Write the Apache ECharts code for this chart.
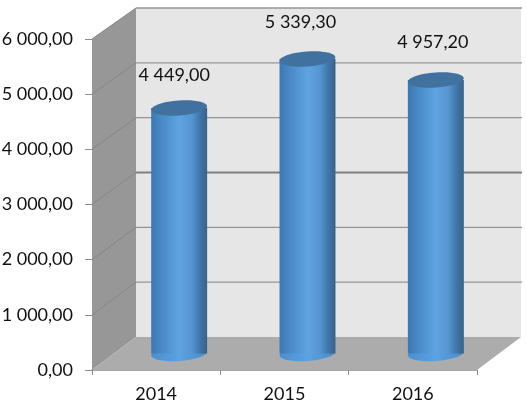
<!DOCTYPE html>
<html>
<head>
<meta charset="utf-8">
<style>html,body{margin:0;padding:0;background:#fff}#c{width:527px;height:403px}</style>
<script src="https://cdn.jsdelivr.net/npm/echarts@6/dist/echarts.min.js"></script>
</head>
<body>
<div id="c"></div>
<script>
const categories = ['2014', '2015', '2016'];
const values = [4449.0, 5339.3, 4957.2];
const valueLabels = ['4 449,00', '5 339,30', '4 957,20'];
const gridValues = [1000, 2000, 3000, 4000, 5000, 6000];
const tickLabels = ['0,00', '1 000,00', '2 000,00', '3 000,00', '4 000,00', '5 000,00', '6 000,00'];

const FONT = 'Lato, sans-serif';
const DEPTH_X = 44, DEPTH_Y = -33, BACK_SCALE = 0.994;
const labelNudge = [[-5, 4], [-7, 0], [-3, -1]];

const chart = echarts.init(document.getElementById('c'), null, { renderer: 'canvas' });

function toBack(p, base) {
  return [p[0] + DEPTH_X, base + DEPTH_Y - (base - p[1]) * BACK_SCALE];
}
function plotEnds(api) {
  const band = api.size([1, 0])[0];
  const l = api.coord([0, 0]), r = api.coord([categories.length - 1, 0]);
  return { left: l[0] - band / 2, right: r[0] + band / 2, base: l[1] };
}

function renderWalls(params, api) {
  const e = plotEnds(api);
  const topY = api.coord([0, 6000])[1];
  const a = [e.left, e.base], b = [e.right, e.base], t = [e.left, topY];
  const aB = toBack(a, e.base), bB = toBack(b, e.base), tB = toBack(t, e.base);
  return {
    type: 'group',
    children: [
      { type: 'polygon', shape: { points: [aB, bB, [bB[0], tB[1]], tB] },
        style: { fill: '#e6e6e6' } },
      { type: 'polygon', shape: { points: [a, aB, tB, t] }, style: { fill: '#979797' } },
      { type: 'polygon', shape: { points: [a, b, bB, aB] }, style: { fill: '#acacac' } }
    ]
  };
}

function renderGrid(params, api) {
  const v = api.value(0);
  const e = plotEnds(api);
  const a = [e.left, api.coord([0, v])[1]];
  const aB = toBack(a, e.base);
  const thick = v === 3000;
  return {
    type: 'group',
    children: [
      { type: 'line', shape: { x1: a[0], y1: a[1], x2: aB[0], y2: aB[1] },
        style: { stroke: '#858585', lineWidth: 1 } },
      { type: 'line', shape: { x1: aB[0], y1: aB[1], x2: e.right + DEPTH_X + 1, y2: aB[1] },
        style: { stroke: thick ? '#7f7f7f' : '#959595', lineWidth: thick ? 2 : 1.3 } }
    ]
  };
}

function renderBar(params, api) {
  const i = api.value(0), v = api.value(1);
  const zero = api.coord([i, 0]), top = api.coord([i, v]);
  const band = api.size([1, 0])[0];
  const rx = band * 0.218, ry = 7.5;
  const cx = zero[0] + DEPTH_X / 2 + 1;
  const yB = zero[1] + DEPTH_Y / 2, yT = top[1] + DEPTH_Y / 2;
  const tilt = 0.07;
  const grad = new echarts.graphic.LinearGradient(0, 0, 1, 0, [
    { offset: 0, color: '#3c78b2' },
    { offset: 0.14, color: '#4586c2' },
    { offset: 0.5, color: '#5fa3e2' },
    { offset: 0.72, color: '#5596d2' },
    { offset: 0.88, color: '#3f74a8' },
    { offset: 1, color: '#386288' }
  ]);
  const gradBottom = new echarts.graphic.LinearGradient(0, 0, 1, 0, [
    { offset: 0, color: '#4a8fd0' },
    { offset: 0.5, color: '#5aa2e4' },
    { offset: 1, color: '#4a8ac6' }
  ]);
  return {
    type: 'group',
    children: [
      { type: 'ellipse', shape: { cx: cx, cy: yB, rx: rx, ry: ry },
        rotation: tilt, originX: cx, originY: yB, style: { fill: gradBottom } },
      { type: 'rect', shape: { x: cx - rx, y: yT, width: rx * 2, height: yB - yT }, style: { fill: grad } },
      { type: 'ellipse', shape: { cx: cx, cy: yT, rx: rx, ry: ry },
        rotation: tilt, originX: cx, originY: yT, style: { fill: '#41729f' } },
      { type: 'text', x: cx + labelNudge[i][0], y: yT - 37 + labelNudge[i][1],
        style: { text: valueLabels[i], font: '18px ' + FONT, fill: '#111', align: 'center', verticalAlign: 'middle' } }
    ]
  };
}

chart.setOption({
  animation: false,
  backgroundColor: '#fff',
  grid: { left: 92, right: 50, top: 39, bottom: 33, outerBoundsMode: 'none' },
  xAxis: {
    type: 'category',
    data: categories,
    boundaryGap: true,
    axisLine: { show: true, lineStyle: { color: '#8c8c8c', width: 1.5 } },
    axisTick: { show: true, length: 5, lineStyle: { color: '#8c8c8c' } },
    axisLabel: { color: '#111', fontFamily: FONT, fontSize: 18, margin: 15 },
    splitLine: { show: false }
  },
  yAxis: {
    type: 'value',
    min: 0,
    max: 6000,
    interval: 1000,
    axisLine: { show: true, lineStyle: { color: '#8c8c8c' } },
    axisTick: { show: true, length: 7, lineStyle: { color: '#8c8c8c' } },
    axisLabel: {
      color: '#111', fontFamily: FONT, fontSize: 18, margin: 19,
      formatter: function (v) { return tickLabels[v / 1000]; }
    },
    splitLine: { show: false }
  },
  series: [
    { type: 'custom', z: 1, silent: true, clip: false, renderItem: renderWalls, data: [[0]] },
    { type: 'custom', z: 2, silent: true, clip: false, renderItem: renderGrid,
      encode: { y: 0 }, data: gridValues.map(function (v) { return [v]; }) },
    { type: 'custom', z: 3, silent: true, clip: false, renderItem: renderBar,
      encode: { x: 0, y: 1 }, data: values.map(function (v, i) { return [i, v]; }) }
  ]
});
</script>
</body>
</html>
